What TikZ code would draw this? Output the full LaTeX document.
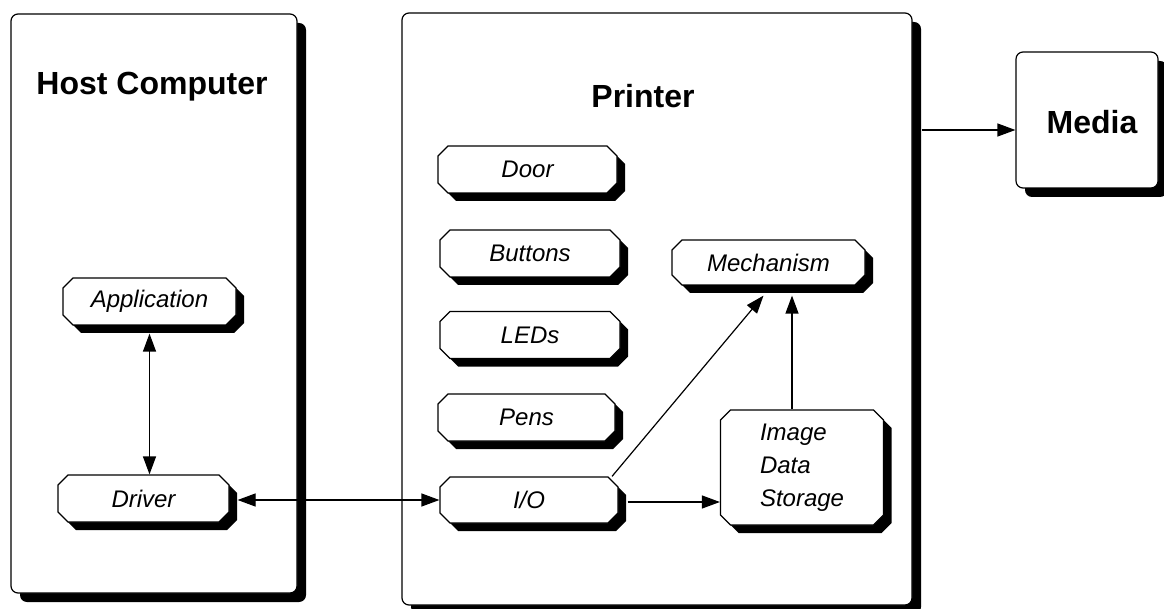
\documentclass[tikz,border=0pt]{standalone}
\usepackage{fontspec}
\setmainfont{Liberation Sans}
\usetikzlibrary{arrows.meta,calc,shadows,shapes.misc}
\tikzset{
  bigbox/.style={draw, line width=1.2pt, rounded corners=7pt, fill=white, inner sep=0pt,
    drop shadow={shadow xshift=9pt, shadow yshift=-9pt, fill=black, opacity=1}},
  blk/.style={draw, line width=1.2pt, chamfered rectangle, chamfered rectangle xsep=5pt,
    chamfered rectangle ysep=5pt, fill=white, inner sep=0pt, minimum height=47pt,
    font=\fontsize{24}{33}\selectfont\itshape,
    drop shadow={shadow xshift=8pt, shadow yshift=-8pt, fill=black, opacity=1}},
  ttl/.style={font=\fontsize{32}{38}\selectfont\bfseries, anchor=base},
  arr/.style={-{Triangle[length=18pt,width=13pt]}, line width=1.2pt},
  dbl/.style={{Triangle[length=18pt,width=13pt]}-{Triangle[length=18pt,width=13pt]}, line width=1.2pt},
}

\begin{document}
\begin{tikzpicture}[x=1pt, y=-1pt]
  \useasboundingbox (0,0) rectangle (1164,609);
  % outer boxes
  \node[bigbox, minimum width=286pt, minimum height=579pt] (host) at (154,303.5) {};
  \node[bigbox, minimum width=510pt, minimum height=592pt] (printer) at (657,309) {};
  \node[bigbox, minimum width=142pt, minimum height=136pt] (media) at (1087,120) {};
  \node[ttl] (hosttl) at (152,95) {Host Computer};
  \node[ttl] (prntl) at (643,108) {Printer};
  \node[ttl] (medtl) at (1092,134) {Media};
  % host side
  \node[blk, minimum width=173pt] (app) at (149.5,301.5) {Application};
  \node[blk, minimum width=171pt] (driver) at (143.5,498.5) {Driver};
  % printer side
  \node[blk, minimum width=179pt] (door) at (527.5,169.5) {Door};
  \node[blk, minimum width=180pt] (buttons) at (530,253.5) {Buttons};
  \node[blk, minimum width=180pt] (leds) at (530,335) {LEDs};
  \node[blk, minimum width=177pt] (pens) at (526.5,417.5) {Pens};
  \node[blk, minimum width=178pt, minimum height=46pt] (io) at (529,500) {I/O};
  \node[blk, minimum width=193pt, minimum height=45pt] (mech) at (768.5,262.5) {Mechanism};
  \node[blk, minimum width=163pt, minimum height=115pt, text width=84pt, align=left]
    (store) at (802,467.5) {Image\\Data\\Storage};
  % connectors
  \coordinate (iout) at ($(io.east)+(9,2)$);
  \coordinate (prout) at ($(media.west -| printer.east)+(9,10)$);
  \draw[dbl] ($(app.south)+(0,8)$) -- (app.south |- driver.north);
  \draw[dbl] ($(io.west -| driver.east)+(8,0)$) -- (io.west);
  \draw[arr] (iout) -- (iout -| store.west);
  \draw[arr] ($(io.north)+(83,0)$) -- ($(mech.south)+(-5,10)$);
  \draw[arr] ($(store.north)+(-10,0)$) -- ($(mech.south)+(23.5,10)$);
  \draw[arr] (prout) -- (prout -| media.west);
\end{tikzpicture}
\end{document}
